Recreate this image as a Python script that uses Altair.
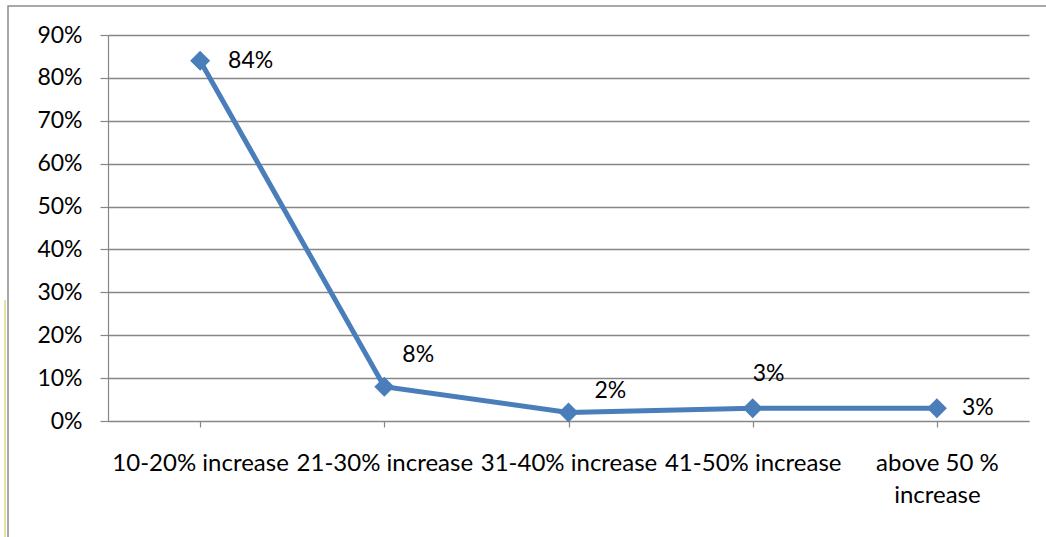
import altair as alt
import pandas as pd

categories = ["10-20% increase", "21-30% increase", "31-40% increase", "41-50% increase", "above 50 % increase"]
values = [0.84, 0.08, 0.02, 0.03, 0.03]
labels = ["84%", "8%", "2%", "3%", "3%"]
# label placement per point (style only): dx, dy
label_dx = [28, 18, 26, 0, 25]
label_dy = [0, -32, -21, -34, 0]

df = pd.DataFrame({"cat": categories, "val": values, "lab": labels,
                   "idx": list(range(len(categories)))})

FONT = "Lato"
FS = 23
BLUE = "#4a7ebb"
GRID = "#868686"

x = alt.X("cat:N", sort=categories,
          scale=alt.Scale(paddingInner=0, paddingOuter=0),
          axis=alt.Axis(title=None, labelAngle=0, labelFontSize=24, labelFont=FONT,
                        labelColor="#000000", domainColor=GRID, tickColor=GRID,
                        tickSize=6, bandPosition=0, ticks=True, labelPadding=24,
                        labelLimit=300, labelLineHeight=32, domainWidth=1.2, tickWidth=1.2,
                        labelExpr="datum.label == 'above 50 % increase' ? ['above 50 %', 'increase'] : datum.label"))
y = alt.Y("val:Q", scale=alt.Scale(domain=[0, 0.9]),
          axis=alt.Axis(title=None, format=".0%", values=[i / 10 for i in range(10)],
                        labelFontSize=FS, labelFont=FONT, labelColor="#000000",
                        domainColor=GRID, tickColor=GRID, gridColor=GRID, tickSize=8,
                        labelPadding=18, gridWidth=1.3, domainWidth=1.2, tickWidth=1.2))

base = alt.Chart(df)
line = base.mark_line(color=BLUE, strokeWidth=5).encode(x=x, y=y)
pts = base.mark_point(shape="diamond", filled=True, color=BLUE, opacity=1, size=400).encode(x=x, y=y)

texts = []
for i in range(len(categories)):
    t = base.transform_filter(alt.datum.idx == i).mark_text(
        align="left", baseline="middle", fontSize=FS, font=FONT, color="#000000",
        dx=label_dx[i], dy=label_dy[i]).encode(x=x, y=y, text="lab:N")
    texts.append(t)

one = pd.DataFrame({"a": [0]})
frame = alt.Chart(one).mark_rect(
    fill=None, stroke="#8c8c8c", strokeWidth=1.5).encode(
    x=alt.value(-100), x2=alt.value(1100), y=alt.value(-29), y2=alt.value(600))
yellow = alt.Chart(one).mark_rule(color="#e6e0a8", strokeWidth=2).encode(
    x=alt.value(-103), y=alt.value(265), y2=alt.value(510))

chart = alt.layer(frame, yellow, line, pts, *texts).properties(
    width=921, height=386,
    autosize=alt.AutoSizeParams(type="none"),
    padding={"left": 108, "top": 35, "right": 17, "bottom": 116},
    background="white",
).configure_view(stroke=None)

chart.save("out.html", embed_options={"renderer": "svg", "actions": False})
